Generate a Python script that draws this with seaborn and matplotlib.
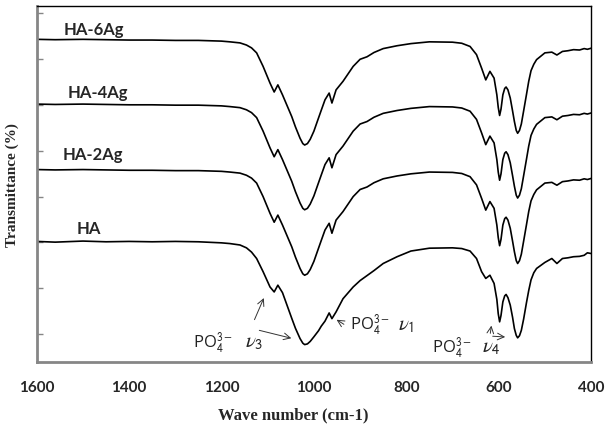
import matplotlib
matplotlib.use("Agg")
import matplotlib.pyplot as plt
import seaborn as sns
import pandas as pd

# wavenumber grid (cm-1)
wavenumber = [1600, 1560, 1500, 1450, 1400, 1350, 1300, 1250, 1200, 1182, 1160, 1146,
              1135, 1124, 1110, 1095, 1086, 1078, 1068,
              1048, 1040, 1030, 1024, 1020, 1014, 1008, 1000, 990, 984, 976,
              967, 961, 952, 937, 915, 900, 885, 870, 850, 820, 790, 750, 700,
              680, 662, 648, 637, 628, 619, 610,
              604, 601, 598, 595, 591, 587, 584, 580, 575, 570, 566, 562, 559,
              555, 551, 546, 540, 535, 530, 524, 518,
              500, 485, 474, 462, 450, 438, 425, 415, 408, 400]

# transmittance (arbitrary, stacked) for each sample
ha_6ag = [90.6, 90.5, 90.6, 90.5, 90.4, 90.4, 90.3, 90.3, 90.1, 89.9, 89.6, 89.0,
          88.2, 86.8, 83.0, 78.3, 75.8, 77.8, 75.0,
          68.9, 66.0, 62.8, 61.3, 60.9, 61.3, 62.5, 64.8, 68.5, 70.7, 73.6,
          75.5, 72.7, 76.4, 78.8, 83.0, 85.0, 85.7, 86.9, 88.0, 88.8, 89.4, 89.9, 89.8,
          89.5, 88.6, 86.3, 82.5, 79.2, 81.6, 79.7,
          75.0, 71.5, 69.2, 71.0, 75.0, 76.8, 77.2, 76.4, 74.1, 70.5, 67.5, 65.0, 64.2,
          65.0, 66.8, 70.5, 75.0, 78.8, 81.8, 83.6, 84.9,
          86.8, 87.0, 86.2, 87.2, 87.4, 87.7, 87.6, 88.0, 87.8, 88.1]

ha_4ag = [72.4, 72.3, 72.4, 72.3, 72.2, 72.2, 72.1, 72.1, 71.9, 71.7, 71.4, 70.8,
          70.0, 68.6, 64.8, 60.1, 57.6, 59.6, 56.8,
          50.7, 47.8, 44.6, 43.1, 42.7, 43.1, 44.3, 46.6, 50.3, 52.5, 55.4,
          57.3, 54.5, 58.2, 60.6, 64.8, 66.8, 67.5, 68.7, 69.8, 70.6, 71.2, 71.7, 71.6,
          71.3, 70.4, 68.1, 64.3, 61.0, 63.4, 61.5,
          56.8, 53.3, 51.0, 52.8, 56.8, 58.6, 59.0, 58.2, 55.9, 52.3, 49.3, 46.8, 46.0,
          46.8, 48.6, 52.3, 56.8, 60.6, 63.6, 65.4, 66.7,
          68.6, 68.8, 68.0, 69.0, 69.2, 69.5, 69.4, 69.8, 69.6, 69.9]

ha_2ag = [54.0, 53.9, 54.0, 53.9, 53.8, 53.8, 53.7, 53.7, 53.5, 53.3, 53.0, 52.4,
          51.6, 50.2, 46.4, 41.7, 39.2, 41.2, 38.4,
          32.3, 29.4, 26.2, 24.7, 24.3, 24.7, 25.9, 28.2, 31.9, 34.1, 37.0,
          38.9, 36.1, 39.8, 42.2, 46.4, 48.4, 49.1, 50.3, 51.4, 52.2, 52.8, 53.3, 53.2,
          52.9, 52.0, 49.7, 45.9, 42.6, 45.0, 43.1,
          38.4, 34.9, 32.6, 34.4, 38.4, 40.2, 40.6, 39.8, 37.5, 33.9, 30.9, 28.4, 27.6,
          28.4, 30.2, 33.9, 38.4, 42.2, 45.2, 47.0, 48.3,
          50.2, 50.4, 49.6, 50.6, 50.8, 51.1, 51.0, 51.4, 51.2, 51.5]

ha = [33.8, 33.6, 33.9, 33.7, 33.8, 33.7, 33.8, 33.7, 33.4, 33.2, 32.8, 32.0,
      30.8, 29.0, 25.3, 21.0, 19.6, 21.5, 19.4,
      12.2, 9.4, 6.5, 5.2, 4.8, 5.0, 5.7, 7.0, 8.7, 10.0, 11.4,
      13.7, 12.1, 14.0, 17.7, 21.0, 22.8, 24.2, 25.6, 27.6, 29.5, 31.1, 31.9, 32.0,
      31.8, 31.1, 29.0, 25.3, 23.4, 24.3, 22.0,
      17.5, 13.5, 11.2, 13.0, 16.8, 18.5, 18.9, 18.0, 15.9, 12.5, 9.3, 7.4, 6.7,
      7.3, 8.8, 12.0, 16.5, 20.0, 23.0, 25.0, 26.2,
      27.9, 29.0, 27.6, 29.0, 29.2, 29.5, 29.6, 29.9, 30.6, 30.4]

samples = ["HA-6Ag", "HA-4Ag", "HA-2Ag", "HA"]
y_ticks = [7.7, 20.6, 33.5, 46.4, 59.3, 72.2, 85.1, 98.0]
bands = [r"$\nu_\mathsf{3}$", r"$\nu_\mathsf{1}$", r"$\nu_\mathsf{4}$"]

df = pd.DataFrame({"wn": wavenumber, "HA-6Ag": ha_6ag, "HA-4Ag": ha_4ag,
                   "HA-2Ag": ha_2ag, "HA": ha})
long_df = df.melt(id_vars="wn", var_name="sample", value_name="T")

sns.set_theme(style="white")
plt.rcParams["font.family"] = ["Lato", "DejaVu Sans"]
plt.rcParams["mathtext.fontset"] = "stix"

fig, ax = plt.subplots(figsize=(6.10, 4.31), dpi=100)
fig.subplots_adjust(left=0.0602, right=0.969, bottom=0.1585, top=0.984)

sns.lineplot(data=long_df, x="wn", y="T", hue="sample", hue_order=samples,
             palette={s: "black" for s in samples}, linewidth=1.2,
             legend=False, ax=ax)

ax.set_xlim(1600, 400)
ax.set_ylim(0, 100)
ax.set_xticks([1600, 1400, 1200, 1000, 800, 600, 400])
ax.set_yticks(y_ticks)
ax.set_yticklabels([])
ax.tick_params(axis="x", direction="in", length=4, width=1, color="#868686",
               pad=13, labelsize=11)
ax.tick_params(axis="y", direction="in", length=4, width=1, color="#868686", left=True)
for lab in ax.get_xticklabels():
    lab.set_fontweight("bold")

for side in ["left", "bottom"]:
    ax.spines[side].set_color("#868686")
    ax.spines[side].set_linewidth(2.0)
for side in ["top", "right"]:
    ax.spines[side].set_color("black")
    ax.spines[side].set_linewidth(1.0)

ax.set_xlabel("Wave number (cm-1)", family="Liberation Serif", fontweight="bold",
              fontsize=12)
ax.xaxis.set_label_coords(0.462, -0.127)
ax.set_ylabel("Transmittance (%)", family="Liberation Serif", fontweight="bold",
              fontsize=11, labelpad=9)

# sample labels
label_pos = {"HA-6Ag": (1476, 93.5), "HA-4Ag": (1467, 75.9),
             "HA-2Ag": (1478, 58.4), "HA": (1487, 37.6)}
for s in samples:
    ax.text(*label_pos[s], s, ha="center", va="center", fontsize=12,
            fontweight="bold")

# band annotations: PO4 part and the nu part, sharing a baseline
arrow = dict(arrowstyle="->", color="#333333", lw=0.7)
band_pos = [(1261, 1150, 4.3), (921, 818, 9.2), (744, 637, 2.8)]
for (px, nx, by), nu in zip(band_pos, bands):
    ax.text(px, by, r"PO$_\mathsf{4}^\mathsf{3-}$", ha="left", va="baseline",
            fontsize=12, family="Open Sans", color="#222222")
    ax.text(nx, by, nu, ha="left", va="baseline", fontsize=15, color="#222222")

ax.annotate("", xy=(1106, 18.6), xytext=(1131, 11.1), arrowprops=arrow)
ax.annotate("", xy=(1043, 6.4), xytext=(1124, 9.0), arrowprops=arrow)
ax.annotate("", xy=(956, 12.2), xytext=(930, 10.1), arrowprops=arrow)
ax.annotate("", xy=(615, 10.9), xytext=(619, 7.2), arrowprops=arrow)
ax.annotate("", xy=(580, 6.9), xytext=(619, 7.2), arrowprops=arrow)

fig.savefig("out.png", dpi=100)
